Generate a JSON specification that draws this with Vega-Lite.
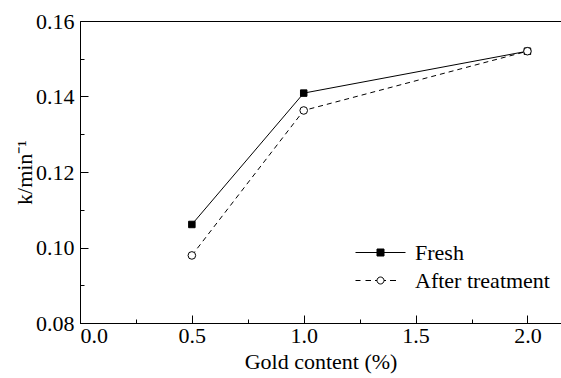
{
  "$schema": "https://vega.github.io/schema/vega-lite/v6.json",
  "width": 481,
  "height": 302,
  "autosize": {"type": "none"},
  "padding": {"left": 80, "top": 21, "right": 0, "bottom": 55},
  "background": "white",
  "config": {
    "view": {"stroke": "black", "strokeWidth": 1},
    "axis": {
      "domainColor": "black",
      "tickColor": "black",
      "labelColor": "black",
      "titleColor": "black",
      "labelFont": "Times New Roman",
      "titleFont": "Times New Roman",
      "labelFontSize": 22,
      "titleFontSize": 22,
      "titleFontWeight": "normal",
      "grid": false,
      "tickWidth": 1,
      "domainWidth": 1
    },
    "legend": {
      "labelFont": "Times New Roman",
      "labelFontSize": 22,
      "labelColor": "black",
      "title": null,
      "orient": "none",
      "padding": 0,
      "symbolSize": 2500,
      "symbolStrokeWidth": 1,
      "symbolStrokeColor": "black",
      "labelOffset": 9
    }
  },
  "data": {
    "values": [
      {"gold": 0.5, "k": 0.1061, "series": "Fresh"},
      {"gold": 1.0, "k": 0.1409, "series": "Fresh"},
      {"gold": 2.0, "k": 0.1520, "series": "Fresh"},
      {"gold": 0.5, "k": 0.0979, "series": "After treatment"},
      {"gold": 1.0, "k": 0.1363, "series": "After treatment"},
      {"gold": 2.0, "k": 0.1520, "series": "After treatment"}
    ]
  },
  "encoding": {
    "x": {
      "field": "gold",
      "type": "quantitative",
      "scale": {"domain": [0, 2.15], "nice": false, "zero": false},
      "axis": {
        "title": "Gold content (%)",
        "values": [0, 0.25, 0.5, 0.75, 1.0, 1.25, 1.5, 1.75, 2.0],
        "labelExpr": "datum.value % 0.5 === 0 ? format(datum.value, '.1f') : ''",
        "tickSize": {"condition": {"test": "datum.value % 0.5 === 0", "value": -8}, "value": -4},
        "labelPadding": 10,
        "titlePadding": 5
      }
    },
    "y": {
      "field": "k",
      "type": "quantitative",
      "scale": {"domain": [0.08, 0.16], "nice": false, "zero": false},
      "axis": {
        "title": "k/min⁻¹",
        "values": [0.08, 0.09, 0.10, 0.11, 0.12, 0.13, 0.14, 0.15, 0.16],
        "labelExpr": "round(datum.value * 100) % 2 === 0 ? format(datum.value, '.2f') : ''",
        "tickSize": {"condition": {"test": "round(datum.value * 100) % 2 === 0", "value": -8}, "value": -4},
        "labelPadding": 14,
        "titlePadding": -1
      }
    }
  },
  "layer": [
    {
      "transform": [{"filter": "datum.series === 'Fresh'"}],
      "mark": {"type": "line", "color": "black", "strokeWidth": 1},
      "encoding": {}
    },
    {
      "transform": [{"filter": "datum.series === 'After treatment'"}],
      "mark": {"type": "line", "color": "black", "strokeWidth": 1, "strokeDash": [5, 4]},
      "encoding": {}
    },
    {
      "transform": [{"filter": "datum.series === 'Fresh'"}],
      "mark": {"type": "point", "shape": "square", "stroke": "black", "strokeWidth": 1, "opacity": 1, "size": 42},
      "encoding": {
        "fill": {
          "field": "series",
          "type": "nominal",
          "scale": {"domain": ["Fresh"], "range": ["black"]},
          "legend": {
            "legendX": 275,
            "legendY": 206,
            "symbolType": "M-1,0H1M-0.14,-0.14H0.14V0.14H-0.14Z",
            "symbolFillColor": "black"
          }
        }
      }
    },
    {
      "transform": [{"filter": "datum.series === 'After treatment'"}],
      "mark": {"type": "point", "shape": "circle", "fill": "white", "strokeWidth": 1, "opacity": 1, "size": 58},
      "encoding": {
        "stroke": {
          "field": "series",
          "type": "nominal",
          "scale": {"domain": ["After treatment"], "range": ["black"]},
          "legend": {
            "legendX": 275,
            "legendY": 234,
            "symbolType": "M-1,0H-0.8M-0.6,0H-0.38M-0.22,0H-0.14M0.14,0H0.22M0.38,0H0.62M0.14,0A0.14,0.14 0 1,1 -0.14,0A0.14,0.14 0 1,1 0.14,0Z",
            "symbolFillColor": "white"
          }
        }
      }
    }
  ]
}
